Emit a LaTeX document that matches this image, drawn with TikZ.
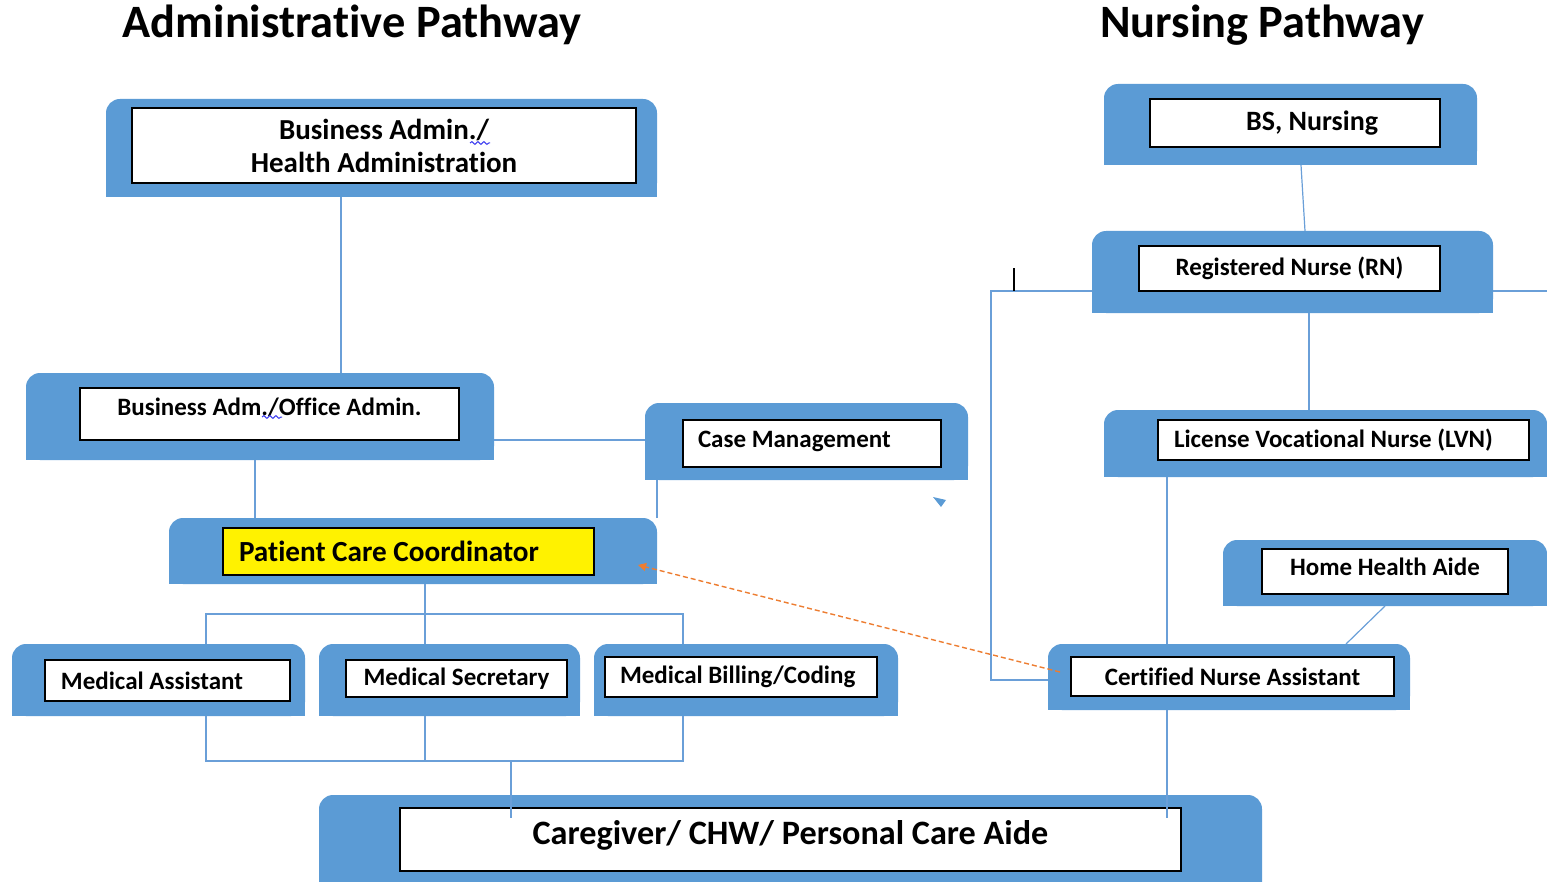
\documentclass[tikz,border=0pt]{standalone}
\usepackage{fontspec}
\setmainfont{Carlito}[Ligatures={NoCommon}]
\usetikzlibrary{arrows.meta,decorations.pathmorphing}
\definecolor{boxblue}{HTML}{5B9BD5}
\definecolor{lineblue}{HTML}{6A9FD8}
\definecolor{dashor}{HTML}{ED7D31}
\definecolor{spell}{HTML}{3A3AF0}
\newcommand\OuterBox[5]{%
  \node[outbox={#4}{#5}] (#1) at (#2,#3) {};
  \fill[boxblue] (#1.west) rectangle (#1.south east);}
\newcommand\LeftIn[3]{\makebox[#1][l]{\hspace*{#2}#3}}
\begin{document}
\begin{tikzpicture}[x=0.5pt,y=-0.5pt,
  outbox/.style 2 args={fill=boxblue, rounded corners=7pt, anchor=north west,
    minimum width=#1*0.5pt, minimum height=#2*0.5pt, inner sep=0pt, outer sep=0pt},
  inbox/.style 2 args={fill=white, draw=black, line width=0.7pt, anchor=north west,
    minimum width=#1*0.5pt, minimum height=#2*0.5pt, inner sep=0pt, outer sep=0pt,
    font=\fontsize{12.5}{15}\selectfont\bfseries, align=center},
  conn/.style={draw=lineblue, line width=0.6pt},
  title/.style={font=\fontsize{23.2}{27}\selectfont\bfseries},
  dasharrow/.style={draw=dashor, line width=0.7pt, dash pattern=on 2.5pt off 1.5pt,
    -{Triangle[length=4pt,width=4pt]}},
  wave/.style={draw=spell, line width=0.5pt, decorate,
    decoration={snake, amplitude=0.7pt, segment length=3pt}}]
\useasboundingbox (0,0) rectangle (1547,882);
\clip (0,0) rectangle (1547,882);

% titles
\node[title] (t1) at (352,25) {Administrative Pathway};
\node[title] (t2) at (1262,25) {Nursing Pathway};

% outer blue boxes
\OuterBox{o1}{106}{99}{551}{98}
\OuterBox{o2}{26}{373}{468}{87}
\OuterBox{o3}{645}{403}{323}{77}
\OuterBox{o4}{169}{518}{488}{66}
\OuterBox{o5}{12}{644}{293}{72}
\OuterBox{o6}{319}{644}{261}{72}
\OuterBox{o7}{594}{644}{304}{72}
\OuterBox{o8}{319}{795}{943}{110}
\OuterBox{o9}{1104}{84}{373}{81}
\OuterBox{o10}{1092}{231}{401}{82}
\OuterBox{o11}{1104}{410}{443}{67}
\OuterBox{o12}{1223}{540}{324}{66}
\OuterBox{o13}{1048}{644}{362}{66}

% bus coordinates
\coordinate (tb1) at (206,614);
\coordinate (tb2) at (425,614);
\coordinate (tb3) at (683,614);
\coordinate (bb1) at (206,761);
\coordinate (bb2) at (425,761);
\coordinate (bb3) at (683,761);
\coordinate (bbm) at (511,761);
\coordinate (jl) at (991,680);
\coordinate (rr) at (1547,291);
\coordinate (tick) at (1014,291);

% connectors drawn under the inner boxes
\draw[conn] ([xshift=-20.25pt]o1.south) -- ([xshift=-20.25pt]o1.south |- o2.north);
\draw[conn] ([xshift=5.25pt]o9.south) -- ([xshift=6.25pt]o10.north);

% inner white boxes
\node[inbox={504}{75}, font=\fontsize{14.5}{16.5}\selectfont\bfseries] (i1) at (132,108)
  {Business Admin./\\Health Administration};
\node[inbox={379}{52}, text height=9pt, text depth=8pt] (i2) at (80,388)
  {Business Adm./Office Admin.};
\node[inbox={258}{47}, text height=9pt, text depth=5.5pt] (i3) at (683,420)
  {\LeftIn{129pt}{7.5pt}{Case Management}};
\node[inbox={371}{47}, fill=yellow, font=\fontsize{14.6}{17}\selectfont\bfseries] (i4) at (223,528)
  {\LeftIn{185.5pt}{8pt}{Patient Care Coordinator}};
\node[inbox={245}{41}] (i5) at (45,660) {\LeftIn{122.5pt}{8pt}{Medical Assistant}};
\node[inbox={221}{37}] (i6) at (346,660) {Medical Secretary};
\node[inbox={272}{40}] (i7) at (605,657) {\LeftIn{136pt}{7.5pt}{Medical Billing/Coding}};
\node[inbox={781}{63}, font=\fontsize{17.1}{20}\selectfont\bfseries, text height=13pt, text depth=8.3pt]
  (i8) at (400,808) {Caregiver/ CHW/ Personal Care Aide};
\node[inbox={290}{48}, font=\fontsize{14}{16}\selectfont\bfseries] (i9) at (1150,99)
  {\makebox[145pt][r]{BS, Nursing\hspace*{31pt}}};
\node[inbox={301}{45}] (i10) at (1139,246) {Registered Nurse (RN)};
\node[inbox={371}{40}] (i11) at (1158,420) {\LeftIn{185.5pt}{8pt}{License Vocational Nurse (LVN)}};
\node[inbox={246}{45}, text height=9pt, text depth=5pt] (i12) at (1262,549) {Home Health Aide};
\node[inbox={323}{39}] (i13) at (1071,657) {Certified Nurse Assistant};

% spell-check waves
\draw[wave] (470,143) -- (490,143);
\draw[wave] (262,417) -- (282,417);

% administrative connectors
\draw[conn] ([yshift=-11.75pt]o2.east) -- ([yshift=-11.75pt]o2.east -| o3.west);
\draw[conn] ([xshift=-2.5pt]o2.south) -- ([xshift=-2.5pt]o2.south |- o4.north);
\draw[conn] (o4.north east) -- (o4.north east |- o3.south);
\draw[conn] (tb2 |- o4.south) -- (tb2 |- o6.north);
\draw[conn] (tb1 |- o5.north) -- (tb1) -- (tb3) -- (tb3 |- o7.north);
\draw[conn] (bb1 |- o5.south) -- (bb1) -- (bb3) -- (bb3 |- o7.south);
\draw[conn] (bb2 |- o6.south) -- (bb2);
\draw[conn] (bbm) -- ([yshift=-5pt]bbm |- i8.north);

% nursing connectors
\draw[conn] ([xshift=8.25pt]o10.south) -- ([xshift=8.25pt]o10.south |- o11.north);
\draw[conn] ([yshift=-9.5pt]o10.west) -| (jl) -- (jl -| o13.west);
\draw[conn] ([yshift=-9.5pt]o10.east) -- (rr);
\draw[black, line width=0.7pt] (tick) -- ++(0,-23);
\draw[conn] ([xshift=-31pt]o13.north) -- ([xshift=-31pt]o13.north |- o11.south);
\draw[conn] ([xshift=-31pt]o13.south) -- ([xshift=-31pt,yshift=-5pt]o13.south |- i8.north);
\draw[conn] (o12.south) -- ([xshift=58.5pt]o13.north);

% dashed orange arrow
\draw[dasharrow] ([xshift=6pt,yshift=2.5pt]o13.west) -- ([xshift=-9.5pt,yshift=-7pt]o4.east);

% stray blue marker
\fill[boxblue] (933,497) -- (946,500) -- (941,507) -- cycle;
\end{tikzpicture}
\end{document}
